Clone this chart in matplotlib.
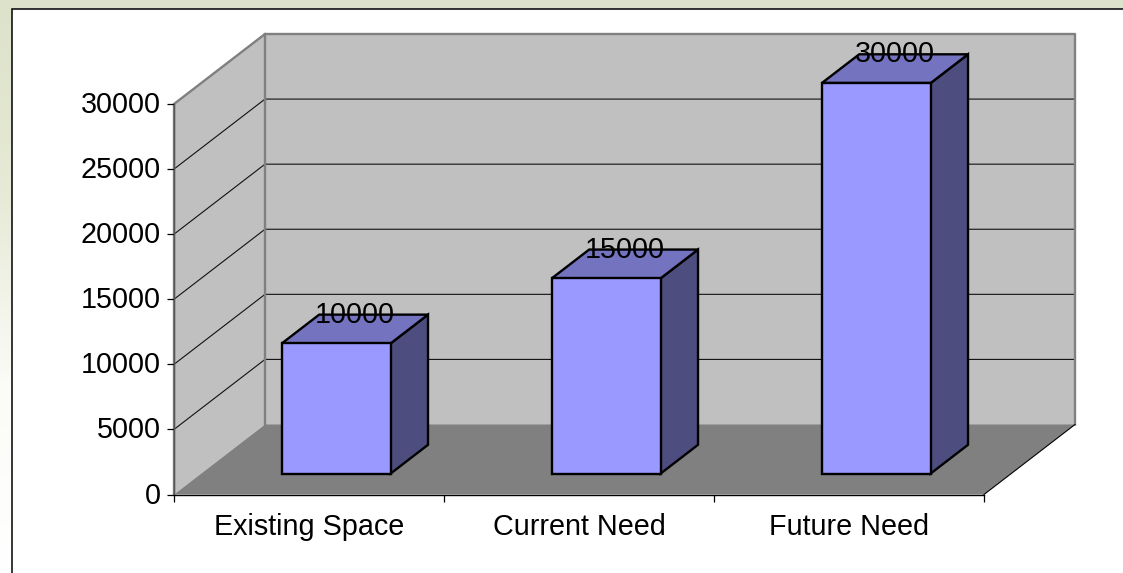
"""Grafico de barras con aspecto 3D: espacio existente frente a necesidades."""

import matplotlib

matplotlib.use("Agg")
import matplotlib.pyplot as plt
import numpy as np
from matplotlib.colors import LinearSegmentedColormap
from matplotlib.patches import Polygon, Rectangle
from matplotlib.transforms import ScaledTranslation

categories = ["Existing Space", "Current Need", "Future Need"]
values = [10000, 15000, 30000]
y_ticks = [0, 5000, 10000, 15000, 20000, 25000, 30000]

WIDTH, HEIGHT = 1123, 573
FRONT = "#9999FF"
TOP = "#7373BF"
SIDE = "#4D4D80"
WALL = "#C0C0C0"
FLOOR = "#808080"
EDGE = "#808080"
FONT_SIZE = 20.7

plt.rcParams["font.family"] = ["Liberation Sans", "DejaVu Sans"]
fig = plt.figure(figsize=(WIDTH / 100, HEIGHT / 100), dpi=100, facecolor="white")

# fondo de la diapositiva: degradado y marco negro
back = fig.add_axes([0, 0, 1, 1], zorder=0)
back.set_xlim(0, WIDTH)
back.set_ylim(HEIGHT, 0)
back.axis("off")
ramp = LinearSegmentedColormap.from_list("ramp", ["#DDE2CA", "#E6EAD6", "#FBFBF7", "#FFFFFF"])
back.imshow(np.linspace(0, 1, 256).reshape(-1, 1), cmap=ramp, aspect="auto",
            extent=(0, WIDTH, HEIGHT, 0))
back.add_patch(Rectangle((11.5, 8.5), WIDTH, HEIGHT, facecolor="white", edgecolor="black", lw=1.1))

# el plano frontal del grafico es el eje real; la profundidad se proyecta desde el
ax = fig.add_axes([174 / WIDTH, (HEIGHT - 494.5) / HEIGHT, 810 / WIDTH, 390.5 / HEIGHT], zorder=1)
ax.patch.set_alpha(0)
ax.set_xlim(0, len(categories))
ax.set_ylim(0, 30000)

depth_x = 91 / 270
depth_y = 30000 * 70 / 390.5


def project(x, y, depth):
    return x + depth * depth_x, y + depth * depth_y


def face(points, **kwargs):
    ax.add_patch(Polygon([project(*p) for p in points], clip_on=False, **kwargs))


n = len(categories)
ymax = y_ticks[-1]
face([(0, 0, 0), (0, ymax, 0), (0, ymax, 1), (0, 0, 1)], facecolor=WALL, edgecolor="none", zorder=1)
face([(0, 0, 1), (0, ymax, 1), (n, ymax, 1), (n, 0, 1)], facecolor=WALL, edgecolor="none", zorder=1)
face([(0, 0, 0), (n, 0, 0), (n, 0, 1), (0, 0, 1)], facecolor=FLOOR, edgecolor="none", zorder=1.5)

for tick in y_ticks[1:-1]:
    xs, ys = zip(project(0, tick, 0), project(0, tick, 1), project(n, tick, 1))
    ax.plot(xs, ys, color="#111111", lw=0.8, clip_on=False, zorder=1.2)

# aristas grises de las paredes
xs, ys = zip(project(0, 0, 0), project(0, ymax, 0), project(0, ymax, 1),
             project(n, ymax, 1), project(n, 0, 1))
ax.plot(xs, ys, color=EDGE, lw=1.7, clip_on=False, zorder=1.3)
xs, ys = zip(project(0, 0, 1), project(0, ymax, 1))
ax.plot(xs, ys, color=EDGE, lw=1.7, clip_on=False, zorder=1.3)
xs, ys = zip(project(n, 0, 0), project(n, 0, 1))
ax.plot(xs, ys, color="black", lw=0.8, clip_on=False, zorder=1.6)

# barras
bar_width = 0.403
near, far = 0.3, 0.71
for i, (name, value) in enumerate(zip(categories, values)):
    left = i + 0.5 - bar_width / 2
    right = left + bar_width
    style = dict(edgecolor="black", lw=1.7, joinstyle="miter", zorder=3)
    face([(right, 0, near), (right, value, near), (right, value, far), (right, 0, far)],
         facecolor=SIDE, **style)
    face([(left, value, near), (right, value, near), (right, value, far), (left, value, far)],
         facecolor=TOP, **style)
    face([(left, 0, near), (right, 0, near), (right, value, near), (left, value, near)],
         facecolor=FRONT, **style)
    lx = project(i + 0.5, value, 0.5)[0]
    ly = project(i + 0.5, value, far)[1]
    ax.text(lx, ly, f"{value}", ha="center", va="center", fontsize=FONT_SIZE, color="black",
            zorder=4, clip_on=False)

ax.set_yticks(y_ticks)
ax.set_xticks(range(n + 1))
ax.set_xticklabels([])
ax.set_xticks(np.arange(n) + 0.5, categories, minor=True)
ax.tick_params(axis="y", length=5, width=0.9, pad=4.3, labelsize=FONT_SIZE)
ax.tick_params(axis="x", which="major", length=5, width=0.9)
ax.tick_params(axis="x", which="minor", length=0, pad=13.5, labelsize=FONT_SIZE)

# las etiquetas del eje y quedan un poco por encima de su marca
lift = ScaledTranslation(0, 2 / 72 * 0.72, fig.dpi_scale_trans)
for label in ax.get_yticklabels():
    label.set_transform(label.get_transform() + lift)

for side in ("top", "right"):
    ax.spines[side].set_visible(False)
for side in ("left", "bottom"):
    ax.spines[side].set_linewidth(1.0)
    ax.spines[side].set_zorder(1.7)
ax.spines["left"].set_color("#555555")

fig.savefig("out.png", dpi=100)
